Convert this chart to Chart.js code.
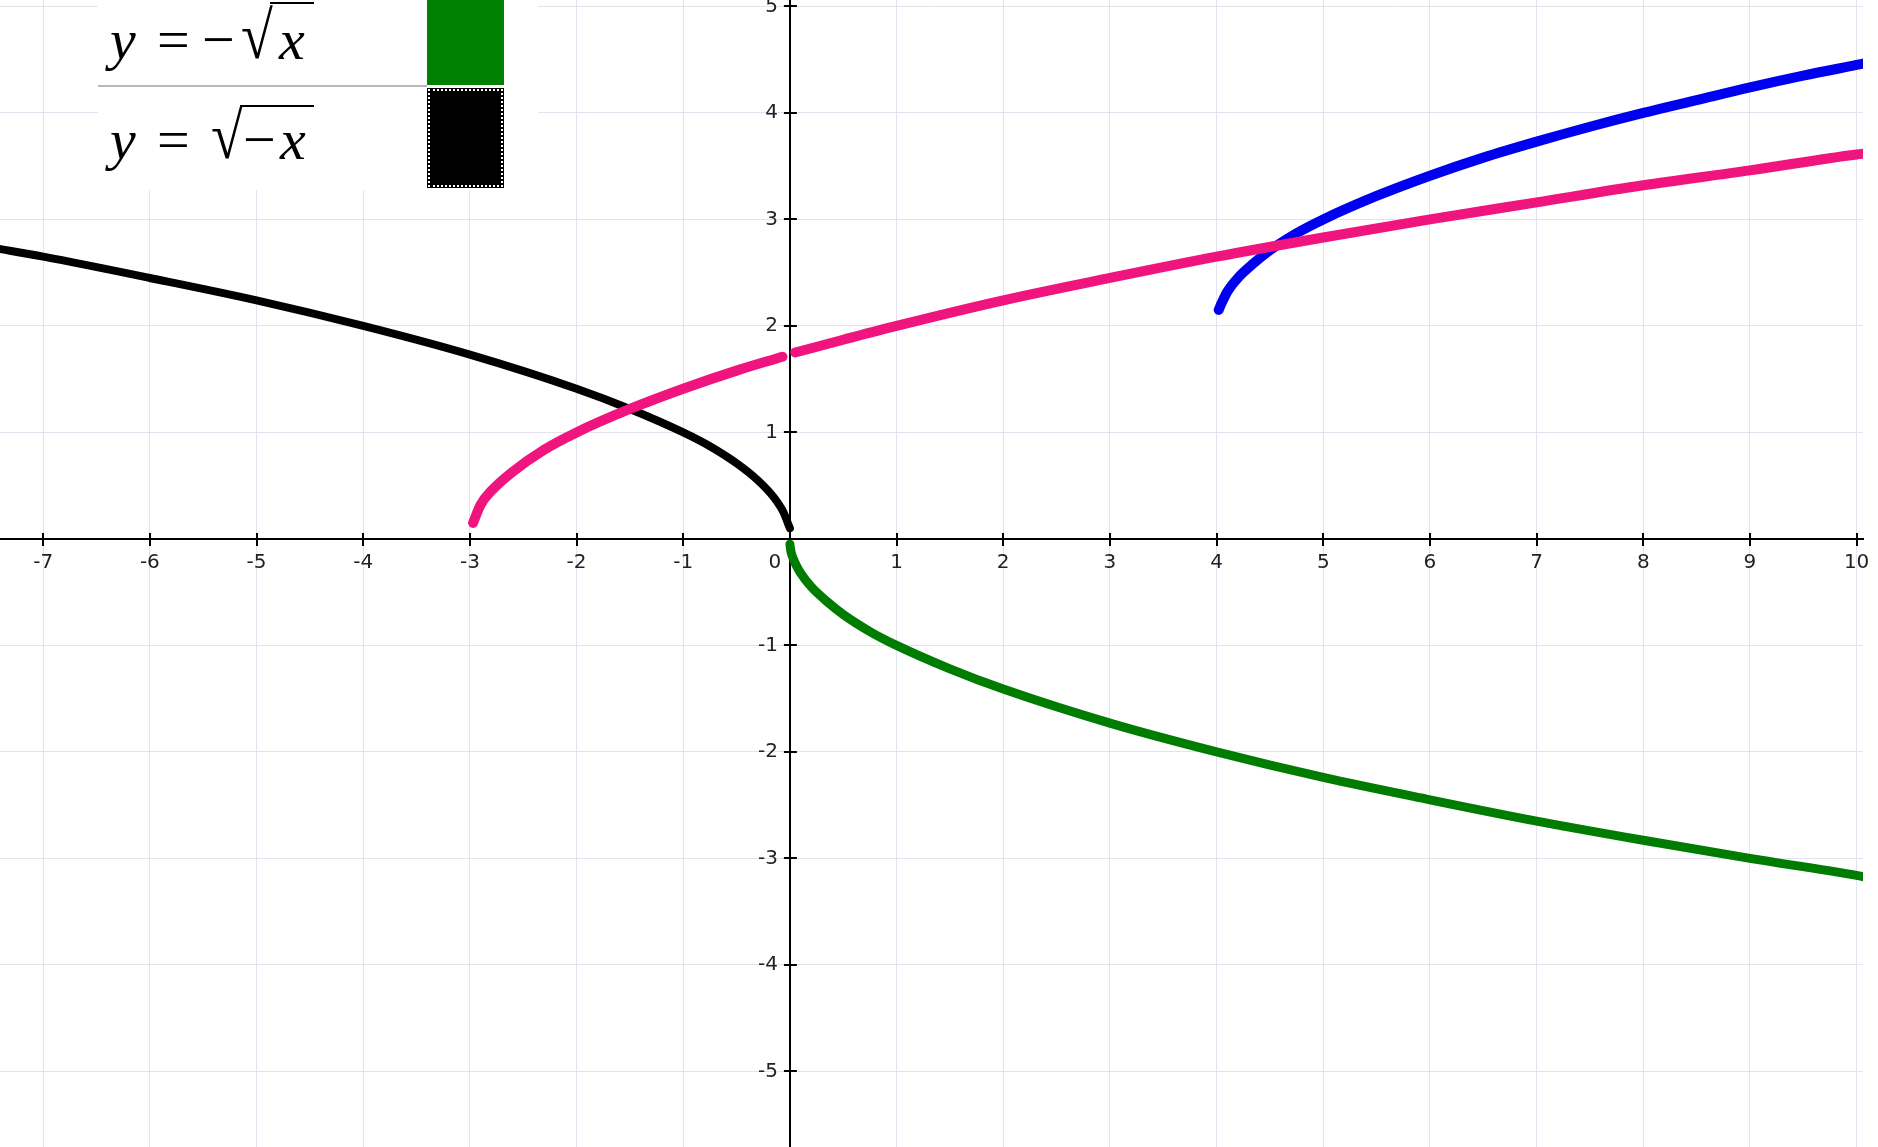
<!DOCTYPE html>
<html lang="en">
<head>
    <meta charset="UTF-8">
    <title>Square root graphs</title>
    <script src="https://cdn.jsdelivr.net/npm/chart.js@4.4.1/dist/chart.umd.min.js"></script>
    <style>
        html, body { margin: 0; padding: 0; background: #fff; }
        #wrap { position: relative; width: 1878px; height: 1147px; overflow: hidden; }
        #legend { position: absolute; left: 98px; top: 0; width: 440px; height: 190px; background: #fff; }
        #legend .sep { position: absolute; left: 0; top: 85px; width: 329px; height: 2px; background: #b8b8b8; }
        #legend .sw { position: absolute; left: 329px; width: 77px; }
        #legend span { position: absolute; font-family: "Liberation Serif", serif; font-size: 58px; line-height: 58px; color: #000; white-space: nowrap; }
        #legend .it { font-style: italic; }
        #legend .rad { transform: scaleY(1.15); transform-origin: 50% 100%; }
        #legend .bar { position: absolute; height: 2px; background: #000; }
    </style>
</head>
<body>
<div id="wrap">
    <canvas id="graph"></canvas>

    <!-- legend box, top left -->
    <div id="legend">
        <span class="it" style="left:12px; top:11px">y</span>
        <span style="left:59px; top:11px">=</span>
        <span style="left:104px; top:11px">−</span>
        <span class="rad" style="left:143px; top:11px">√</span>
        <div class="bar" style="left:172px; top:2px; width:44px"></div>
        <span class="it" style="left:181px; top:11px">x</span>
        <div class="sw" style="top:0; height:85px; background:#008000"></div>

        <div class="sep"></div>

        <span class="it" style="left:12px; top:111px">y</span>
        <span style="left:59px; top:111px">=</span>
        <span class="rad" style="left:113px; top:111px">√</span>
        <div class="bar" style="left:142px; top:105px; width:74px"></div>
        <span style="left:145px; top:111px">−</span>
        <span class="it" style="left:182px; top:111px">x</span>
        <div class="sw" style="top:88px; height:100px; background:#000; outline:2px dotted #fff; outline-offset:-3px"></div>
    </div>
</div>

<script>
    // values
    const pinkX  = [-2.97, -2.9, -2.8, -2.6, -2.3, -2.0, -1.5, -1.0, -0.5, -0.07, null, 0.05, 0.5, 1, 2, 3, 4, 5, 6, 7, 8, 9, 10, 10.1];
    const pinkY  = [0.15, 0.32, 0.45, 0.63, 0.84, 1.0, 1.22, 1.41, 1.58, 1.71, null, 1.75, 1.87, 2.0, 2.24, 2.45, 2.65, 2.83, 3.0, 3.16, 3.32, 3.46, 3.61, 3.62];

    const blueX  = [4.02, 4.05, 4.1, 4.2, 4.35, 4.5, 4.75, 5, 5.5, 6, 6.5, 7, 7.5, 8, 8.5, 9, 9.5, 10, 10.1];
    const blueY  = [2.15, 2.22, 2.32, 2.45, 2.59, 2.71, 2.87, 3.0, 3.22, 3.41, 3.58, 3.73, 3.87, 4.0, 4.12, 4.24, 4.35, 4.45, 4.47];

    const greenX = [0.0, 0.01, 0.03, 0.06, 0.1, 0.2, 0.35, 0.5, 0.75, 1, 1.5, 2, 3, 4, 5, 6, 7, 8, 9, 10, 10.1];
    const greenY = [-0.05, -0.12, -0.18, -0.25, -0.32, -0.45, -0.59, -0.71, -0.87, -1.0, -1.22, -1.41, -1.73, -2.0, -2.24, -2.45, -2.65, -2.83, -3.0, -3.16, -3.18];

    const blackX = [-7.45, -7, -6, -5, -4, -3, -2, -1.5, -1, -0.75, -0.5, -0.3, -0.15, -0.06, -0.02, 0];
    const blackY = [2.73, 2.65, 2.45, 2.24, 2.0, 1.73, 1.41, 1.22, 1.0, 0.87, 0.71, 0.55, 0.39, 0.25, 0.15, 0.1];

    const xTicks = [-7, -6, -5, -4, -3, -2, -1, 0, 1, 2, 3, 4, 5, 6, 7, 8, 9, 10];
    const yTicks = [-5, -4, -3, -2, -1, 0, 1, 2, 3, 4, 5];

    function toPoints(xs, ys) {
        return xs.map((x, i) => x === null ? { x: NaN, y: null } : { x: x, y: ys[i] });
    }

    function curve(label, xs, ys, color, width) {
        return {
            label: label,
            data: toPoints(xs, ys),
            showLine: true,
            borderColor: color,
            backgroundColor: color,
            borderWidth: width,
            borderCapStyle: 'round',
            borderJoinStyle: 'round',
            pointRadius: 0,
            pointHoverRadius: 0,
            cubicInterpolationMode: 'monotone',
            spanGaps: false
        };
    }

    // little tick marks that cross the axes
    const crossTicks = {
        id: 'crossTicks',
        beforeDatasetsDraw(chart) {
            const { ctx, scales: { x, y } } = chart;
            const x0 = x.getPixelForValue(0);
            const y0 = y.getPixelForValue(0);
            ctx.save();
            ctx.strokeStyle = '#000';
            ctx.lineWidth = 2;
            ctx.beginPath();
            xTicks.forEach(v => {
                if (v === 0) return;
                const px = Math.round(x.getPixelForValue(v));
                ctx.moveTo(px, y0 - 6);
                ctx.lineTo(px, y0 + 7);
            });
            yTicks.forEach(v => {
                if (v === 0) return;
                const py = Math.round(y.getPixelForValue(v));
                ctx.moveTo(x0 - 6, py);
                ctx.lineTo(x0 + 7, py);
            });
            ctx.stroke();
            ctx.restore();
        }
    };

    const tickFont = { family: 'DejaVu Sans', size: 20 };

    // axes sit in the middle, so they should not eat room at the edges
    function noEdgePadding(scale) {
        scale.paddingLeft = 0;
        scale.paddingRight = 0;
        scale.paddingTop = 0;
        scale.paddingBottom = 0;
    }

    new Chart(document.getElementById('graph'), {
        type: 'scatter',
        data: {
            datasets: [
                curve('y = \u221A(x+3)', pinkX, pinkY, '#f0147f', 10),
                curve('y = \u221A(x\u22124)+2', blueX, blueY, '#0000f0', 10),
                curve('y = \u2212\u221Ax', greenX, greenY, '#007c00', 9),
                curve('y = \u221A(\u2212x)', blackX, blackY, '#000000', 8)
            ]
        },
        options: {
            responsive: true,
            maintainAspectRatio: false,
            animation: false,
            layout: { padding: { left: 0, right: 15, top: 0, bottom: 0 } },
            plugins: {
                legend: { display: false },
                tooltip: { enabled: false }
            },
            scales: {
                x: {
                    type: 'linear',
                    min: -7.405,
                    max: 10.06,
                    position: { y: 0 },
                    afterBuildTicks: axis => { axis.ticks = xTicks.map(v => ({ value: v })); },
                    afterFit: noEdgePadding,
                    grid: { color: '#e3e3ef', lineWidth: 1, drawTicks: false },
                    border: { display: true, color: '#000', width: 2 },
                    ticks: {
                        font: tickFont,
                        color: '#222',
                        padding: 12,
                        maxRotation: 0,
                        autoSkip: false,
                        callback: v => v === 0 ? '0\u2002\u2002\u2002' : String(v)
                    }
                },
                y: {
                    type: 'linear',
                    min: -5.71,
                    max: 5.06,
                    position: { x: 0 },
                    afterBuildTicks: axis => { axis.ticks = yTicks.map(v => ({ value: v })); },
                    afterFit: noEdgePadding,
                    grid: { color: '#e3e3ef', lineWidth: 1, drawTicks: false },
                    border: { display: true, color: '#000', width: 2 },
                    ticks: {
                        font: tickFont,
                        color: '#222',
                        autoSkip: false,
                        // labels of a centred y axis hug the line, so pad them with a space
                        callback: v => v === 0 ? '' : String(v) + '\u2002\u200A'
                    }
                }
            }
        },
        plugins: [crossTicks]
    });
</script>
</body>
</html>
